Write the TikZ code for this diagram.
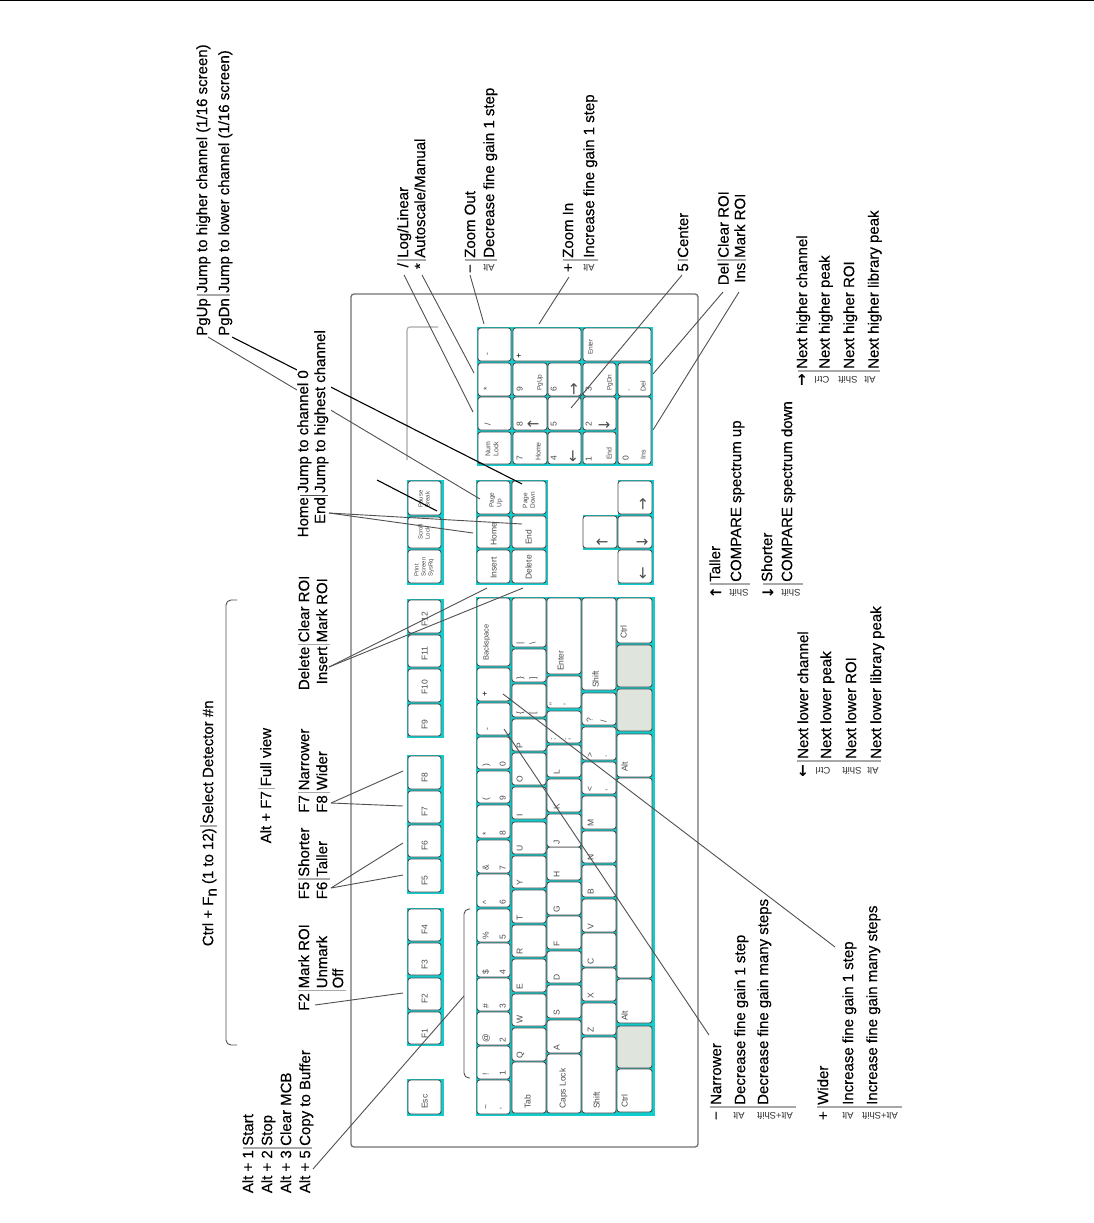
\documentclass[tikz,border=0pt]{standalone}
\usepackage{fontspec}
\setmainfont{Liberation Sans}[BoldFont=Liberation Sans,BoldFeatures={FakeBold=0.3}]
\newfontfamily\dejafont{DejaVu Sans}
\newcounter{lb}
\tikzset{
  group/.style={fill=tealbg,draw=tealbg,line width=0.6pt},
  keybox/.style={draw=keyline,line width=0.9pt,rounded corners=2.6pt,inner sep=0pt,outer sep=0pt},
  klabel/.style={rotate=90,anchor=mid west,inner sep=0pt,text=keytext,font=\fontsize{8.5}{8.5}\selectfont,align=left},
  kbig/.style={klabel,font=\dejafont\fontsize{15}{15}\selectfont},
  desc/.style={xshift=2.5pt,rotate=90,anchor=mid west,inner sep=0pt,font=\bfseries\fontsize{15}{15}\selectfont},
  keyn/.style={xshift=2.5pt,rotate=90,anchor=mid east,inner sep=0pt,font=\bfseries\fontsize{15}{15}\selectfont},
  modn/.style={rotate=180,inner sep=0pt,font=\fontsize{9.5}{9.5}\selectfont,text=black!80},
  boldarrow/.style={inner sep=0pt,font=\dejafont\bfseries\fontsize{15}{15}\selectfont},
  sep/.style={draw=sepgray,line width=1.3pt},
  septhin/.style={draw=lineg,line width=0.8pt},
  conn/.style={draw=lineg,line width=0.9pt},
  connb/.style={draw=black,line width=1.1pt},
  body/.style={draw=bodyg,line width=1.3pt,rounded corners=3pt},
  bracket/.style={draw=lineg,line width=0.9pt,rounded corners=5pt},
}
\definecolor{tealbg}{HTML}{10CCCC}
\definecolor{keyline}{HTML}{4A4A4A}
\definecolor{keytext}{HTML}{4A4A4A}
\definecolor{sepgray}{HTML}{A8A8A8}
\definecolor{lineg}{HTML}{505050}
\definecolor{bodyg}{HTML}{707070}
\definecolor{wingray}{HTML}{DFE4DD}
\newcommand{\keyb}[6][white]{%
  \pgfmathsetmacro\kw{#5-#3}\pgfmathsetmacro\kh{#6-#4}%
  \node[keybox,fill=#1,minimum width=\kw pt,minimum height=\kh pt] (#2) at ({(#3+#5)/2},{(#4+#6)/2}) {};}
\newcommand{\kl}[3]{\stepcounter{lb}\node[klabel] (lab\arabic{lb}) at (#1,#2) {#3};}
\newcommand{\kb}[3]{\stepcounter{lb}\node[kbig] (lab\arabic{lb}) at (#1,#2) {#3};}
\newcommand{\ds}[3]{\stepcounter{lb}\node[desc] (lab\arabic{lb}) at (#1,#2) {#3};}
\newcommand{\kn}[3]{\stepcounter{lb}\node[keyn] (lab\arabic{lb}) at (#1,#2) {#3};}
\newcommand{\mn}[3]{\stepcounter{lb}\node[modn] (lab\arabic{lb}) at (#1,#2) {#3};}
\newcommand{\ba}[3]{\stepcounter{lb}\node[boldarrow] (lab\arabic{lb}) at (#1,#2) {#3};}
\begin{document}
\begin{tikzpicture}[x=1pt,y=-1pt]
\useasboundingbox (0,0) rectangle (1094,1223);
\draw[black,line width=1pt] (0,0.5) -- (1094,0.5);
% body
\draw[body] (351,294) rectangle (698,1147);
\draw[draw=sepgray,line width=1.1pt,rounded corners=3pt] (438,327) -- (407,327) -- (407,460);
% teal groups
\fill[group] (407,1079) rectangle (443,1115);
\fill[group] (407,908) rectangle (443,1045);
\fill[group] (407,755) rectangle (443,893);
\fill[group] (407,599) rectangle (443,737);
\fill[group] (407,480) rectangle (443,584);
\fill[group] (476,480) rectangle (547,584);
\fill[group] (618,480) rectangle (653,584);
\fill[group] (583,515) rectangle (618,549);
\fill[group] (477,327) rectangle (652,465);
\fill[group] (476,597) rectangle (654,1115);
% function row
\keyb{esc}{408}{1080}{441}{1114}\kl{425}{1109}{Esc}
\keyb{f1}{408}{1012}{441}{1044}\kl{425}{1039}{F1}
\keyb{f2}{408}{978}{441}{1010}\kl{425}{1004}{F2}
\keyb{f3}{408}{943}{441}{975}\kl{425}{970}{F3}
\keyb{f4}{408}{909}{441}{941}\kl{425}{935}{F4}
\keyb{f5}{408}{859}{441}{892}\kl{425}{886}{F5}
\keyb{f6}{408}{825}{441}{857}\kl{425}{851}{F6}
\keyb{f7}{408}{791}{441}{823}\kl{425}{817}{F7}
\keyb{f8}{408}{756}{441}{789}\kl{425}{783}{F8}
\keyb{f9}{408}{704}{441}{736}\kl{425}{730}{F9}
\keyb{f10}{408}{669}{441}{702}\kl{425}{695}{F10}
\keyb{f11}{408}{635}{441}{667}\kl{425}{661}{F11}
\keyb{f12}{408}{600}{441}{633}\kl{425}{627}{F12}
% number row
\keyb{ktil}{477}{1080}{510}{1114}\kl{486}{1110}{\textasciitilde}\kl{503}{1110}{`}
\keyb{k1}{477}{1046}{510}{1079}\kl{486}{1076}{!}\kl{503}{1076}{1}
\keyb{k2}{477}{1012}{510}{1045}\kl{486}{1043}{@}\kl{503}{1043}{2}
\keyb{k3}{477}{978}{510}{1011}\kl{486}{1009}{\#}\kl{503}{1009}{3}
\keyb{k4}{477}{943}{510}{977}\kl{486}{975}{\$}\kl{503}{975}{4}
\keyb{k5}{477}{909}{510}{942}\kl{486}{940}{\%}\kl{503}{940}{5}
\keyb{k6}{477}{874}{510}{907}\kl{486}{905}{\^{}}\kl{503}{905}{6}
\keyb{k7}{477}{840}{510}{873}\kl{486}{871}{\&}\kl{503}{871}{7}
\keyb{k8}{477}{805}{510}{838}\kl{486}{836}{*}\kl{503}{836}{8}
\keyb{k9}{477}{771}{510}{803}\kl{486}{801}{(}\kl{503}{801}{9}
\keyb{k0}{477}{737}{510}{769}\kl{486}{767}{)}\kl{503}{767}{0}
\keyb{kmin}{477}{703}{510}{735}\kl{487}{731}{-}
\keyb{kplu}{477}{668}{510}{701}\stepcounter{lb}\node[klabel,text=black] (lab\arabic{lb}) at (485,697) {+};
\keyb{kbks}{477}{598}{510}{666}\stepcounter{lb}\node[klabel,font=\fontsize{7.5}{7.5}\selectfont] (lab\arabic{lb}) at (486,661) {Backspace};
% qwerty row
\keyb{ktab}{512}{1062}{546}{1113}\kl{528}{1109}{Tab}
\keyb{kq}{512}{1028}{546}{1061}\kl{520}{1059}{Q}
\keyb{kw}{512}{994}{546}{1026}\kl{520}{1024}{W}
\keyb{ke}{512}{959}{546}{992}\kl{520}{990}{E}
\keyb{kr}{512}{925}{546}{957}\kl{520}{955}{R}
\keyb{kt}{512}{890}{546}{923}\kl{520}{921}{T}
\keyb{ky}{512}{856}{546}{888}\kl{520}{886}{Y}
\keyb{ku}{512}{822}{546}{854}\kl{520}{852}{U}
\keyb{ki}{512}{787}{546}{819}\kl{520}{817}{I}
\keyb{ko}{512}{753}{546}{785}\kl{520}{783}{O}
\keyb{kp}{512}{719}{546}{751}\kl{520}{749}{P}
\keyb{klb}{512}{684}{546}{717}\kl{520}{715}{\{}\kl{533}{715}{[}
\keyb{krb}{512}{649}{546}{682}\kl{520}{680}{\}}\kl{533}{680}{]}
\keyb{kbsl}{512}{598}{546}{647}\kl{520}{645}{|}\kl{533}{645}{\textbackslash}
% home row
\keyb{kcap}{547}{1054}{581}{1113}\kl{563}{1109}{Caps Lock}
\keyb{ka}{547}{1020}{581}{1053}\kl{557}{1051}{A}
\keyb{ks}{547}{985}{581}{1018}\kl{557}{1016}{S}
\keyb{kd}{547}{951}{581}{983}\kl{557}{981}{D}
\keyb{kf}{547}{916}{581}{949}\kl{557}{947}{F}
\keyb{kg}{547}{882}{581}{915}\kl{557}{913}{G}
\keyb{kh}{547}{847}{581}{880}\kl{557}{878}{H}
\keyb{kj}{547}{814}{581}{847}\kl{557}{845}{J}
\keyb{kk}{547}{779}{581}{812}\kl{557}{810}{K}
\keyb{kl}{547}{745}{581}{777}\kl{557}{775}{L}
\keyb{ksc}{547}{711}{581}{743}\kl{553}{741}{:}\kl{567}{741}{;}
\keyb{kqu}{547}{676}{581}{708}\kl{553}{706}{"}\kl{567}{706}{'}
\keyb{kent}{547}{598}{581}{674}\kl{561}{671}{Enter}
% shift row
\keyb{kshl}{582}{1037}{616}{1113}\kl{597}{1109}{Shift}
\keyb{kz}{582}{1003}{616}{1035}\kl{591}{1033}{Z}
\keyb{kx}{582}{968}{616}{1001}\kl{591}{999}{X}
\keyb{kc}{582}{933}{616}{967}\kl{591}{965}{C}
\keyb{kv}{582}{899}{616}{932}\kl{591}{930}{V}
\keyb{kb}{582}{865}{616}{897}\kl{591}{895}{B}
\keyb{kn}{582}{831}{616}{863}\kl{591}{861}{N}
\keyb{km}{582}{796}{616}{829}\kl{591}{827}{M}
\keyb{kcom}{582}{762}{616}{794}\kl{590}{792}{<}\kl{604}{792}{,}
\keyb{kdot}{582}{727}{616}{760}\kl{590}{758}{>}\kl{604}{758}{.}
\keyb{ksla}{582}{693}{616}{725}\kl{590}{723}{?}\kl{604}{723}{/}
\keyb{kshr}{582}{598}{616}{690}\kl{596}{688}{Shift}
% bottom row
\keyb{kctl}{617}{1069}{652}{1112}\kl{625}{1108}{Ctrl}
\keyb[wingray]{kwinl}{617}{1026}{652}{1068}
\keyb{kaltl}{617}{979}{652}{1023}\kl{625}{1021}{Alt}
\keyb{kspc}{617}{778}{652}{978}
\keyb{kaltr}{617}{734}{652}{777}\kl{625}{772}{Alt}
\keyb[wingray]{kwinr}{617}{689}{652}{731}
\keyb[wingray]{kmenu}{617}{645}{652}{687}
\keyb{kctr}{617}{598}{652}{643}\kl{624}{639}{Ctrl}
% system keys
\keyb{kprt}{408}{550}{441}{583}\stepcounter{lb}\node[klabel,font=\fontsize{6}{7}\selectfont,anchor=center] (lab\arabic{lb}) at (424,567) {Print\\Screen\\SysRq};
\keyb{kscr}{408}{517}{441}{548}\stepcounter{lb}\node[klabel,font=\fontsize{6}{7}\selectfont,anchor=center] (lab\arabic{lb}) at (424,532) {Scroll\\Lock};
\keyb{kpau}{408}{481}{441}{515}\stepcounter{lb}\node[klabel,font=\fontsize{6}{7}\selectfont,anchor=center] (lab\arabic{lb}) at (424,499) {Pause\\Break};
% nav
\keyb{kins}{477}{550}{510}{583}\kl{494}{579}{Insert}
\keyb{khom}{477}{516}{510}{548}\kl{494}{546}{Home}
\keyb{kpup}{477}{481}{510}{514}\stepcounter{lb}\node[klabel,font=\fontsize{6.5}{7.5}\selectfont,anchor=center] (lab\arabic{lb}) at (496,500) {Page\\Up};
\keyb{kdel}{512}{550}{546}{583}\kl{529}{580}{Delete}
\keyb{kend}{512}{516}{546}{548}\kl{529}{545}{End}
\keyb{kpdn}{512}{481}{546}{514}\stepcounter{lb}\node[klabel,font=\fontsize{6.5}{7.5}\selectfont,anchor=center] (lab\arabic{lb}) at (529,500) {Page\\Down};
% cursor
\keyb{arup}{618}{481}{652}{514}\kb{645}{511}{→}
\keyb{ardn}{618}{516}{652}{548}\kb{645}{549}{↓}
\keyb{arlf}{618}{550}{652}{583}\kb{645}{580}{←}
\keyb{arup2}{583}{516}{617}{548}\kb{605}{549}{↑}
% numpad
\keyb{nmin}{478}{328}{511}{361}\kl{487}{356}{-}
\keyb{nast}{478}{363}{511}{396}\kl{487}{391}{*}
\keyb{nsla}{478}{397}{511}{430}\kl{488}{426}{/}
\keyb{nlck}{478}{432}{511}{464}\stepcounter{lb}\node[klabel,font=\fontsize{7}{8}\selectfont,anchor=center] (lab\arabic{lb}) at (492,449) {Num\\Lock};
\keyb{nplu}{513}{328}{581}{361}\stepcounter{lb}\node[klabel,text=black] (lab\arabic{lb}) at (519,359) {+};
\keyb{nent}{583}{328}{651}{361}\stepcounter{lb}\node[klabel,font=\fontsize{6.5}{6.5}\selectfont] (lab\arabic{lb}) at (590,355) {Enter};
\keyb{n9}{513}{363}{547}{396}\kl{520}{392}{9}\stepcounter{lb}\node[klabel,font=\fontsize{6.5}{6.5}\selectfont] (lab\arabic{lb}) at (539,391) {PgUp};
\keyb{n8}{513}{397}{547}{430}\kl{520}{427}{8}\kb{536}{431}{↑}
\keyb{n7}{513}{432}{547}{464}\kl{520}{461}{7}\stepcounter{lb}\node[klabel,font=\fontsize{7}{7}\selectfont] (lab\arabic{lb}) at (538,461) {Home};
\keyb{n6}{548}{363}{581}{396}\kl{554}{392}{6}\kb{576}{396}{→}
\keyb{n5}{548}{397}{581}{430}\kl{554}{427}{5}
\keyb{n4}{548}{432}{581}{464}\kl{554}{461}{4}\kb{575}{463}{←}
\keyb{n3}{583}{363}{616}{396}\kl{589}{392}{3}\stepcounter{lb}\node[klabel,font=\fontsize{6.5}{6.5}\selectfont] (lab\arabic{lb}) at (609,391) {PgDn};
\keyb{n2}{583}{397}{616}{430}\kl{589}{427}{2}\kb{607}{432}{↓}
\keyb{n1}{583}{432}{616}{464}\kl{589}{462}{1}\stepcounter{lb}\node[klabel,font=\fontsize{7}{7}\selectfont] (lab\arabic{lb}) at (609,460) {End};
\keyb{ndot}{618}{363}{651}{396}\kl{627}{392}{.}\stepcounter{lb}\node[klabel,font=\fontsize{7}{7}\selectfont] (lab\arabic{lb}) at (643,392) {Del};
\keyb{n0}{618}{397}{651}{464}\kl{626}{461}{0}\stepcounter{lb}\node[klabel,font=\fontsize{7}{7}\selectfont] (lab\arabic{lb}) at (643,460) {Ins};
% brackets
\draw[bracket] (237,600) -- (226,600) -- (226,1045) -- (237,1045);
\draw[bracket] (470,909) -- (464,909) -- (464,1078) -- (470,1078);
% connector end points
\coordinate (aPgUp) at (208,337); \coordinate (bPgUp) at (480,499);
\coordinate (aPgDn) at (232,337); \coordinate (bPgDn) at (522,484);
\coordinate (aPau) at (377,480); \coordinate (bPau) at (437,511);
\coordinate (aEnd) at (329,513); \coordinate (bHome) at (473,533); \coordinate (bEnd) at (522,524);
\coordinate (aDel) at (329,667); \coordinate (bIns) at (487,588); \coordinate (bDel) at (523,588);
\coordinate (aF8) at (331,803); \coordinate (bF8) at (403,771); \coordinate (bF7) at (403,806);
\coordinate (aF6) at (331,888); \coordinate (bF6) at (403,843); \coordinate (bF5) at (403,875);
\coordinate (aF2) at (315,1005); \coordinate (bF2) at (403,993);
\coordinate (aA5) at (313,1169); \coordinate (bA5) at (464,996);
\coordinate (aSl) at (404,275); \coordinate (bSl) at (473,412);
\coordinate (aAs) at (422,275); \coordinate (bAs) at (474,373);
\coordinate (aMi) at (470,275); \coordinate (bMi) at (484,324);
\coordinate (aPl) at (569,277); \coordinate (bPl) at (539,324);
\coordinate (aFi) at (682,275); \coordinate (bFi) at (571,408);
\coordinate (aDe) at (723,292); \coordinate (bDe) at (653,374);
\coordinate (aIn) at (739,292); \coordinate (bIn) at (653,430);
\coordinate (aNa) at (709,1035); \coordinate (bNa) at (504,729);
\coordinate (aWi) at (835,947); \coordinate (bWi) at (503,694);
% connectors
\draw[conn] (aPgUp) -- (bPgUp);
\draw[connb] (aPgDn) -- (bPgDn);
\draw[connb] (aPau) -- (bPau);
\fill[white] (297,328) rectangle (331,497);
\draw[conn] (aEnd) -- (bHome);
\draw[conn] (aEnd) -- (bEnd);
\draw[conn] (aDel) -- (bIns);
\draw[conn] (aDel) -- (bDel);
\draw[conn] (aF8) -- (bF8);
\draw[conn] (aF8) -- (bF7);
\draw[conn] (aF6) -- (bF6);
\draw[conn] (aF6) -- (bF5);
\draw[conn] (aF2) -- (bF2);
\draw[conn] (aA5) -- (bA5);
\draw[conn] (aSl) -- (bSl);
\draw[conn] (aAs) -- (bAs);
\draw[conn] (aMi) -- (bMi);
\draw[conn] (aPl) -- (bPl);
\draw[conn] (aFi) -- (bFi);
\draw[conn] (aDe) -- (bDe);
\draw[conn] (aIn) -- (bIn);
\draw[conn] (aNa) -- (bNa);
\draw[conn] (aWi) -- (bWi);
% text lists
\draw[sep] (197,295) -- (230,295);
\kn{202}{298}{PgUp}\ds{202}{293}{Jump to higher channel (1/16 screen)}
\kn{224}{298}{PgDn}\ds{224}{293}{Jump to lower channel (1/16 screen)}
\draw[sep] (397,260) -- (426,260);
\kn{403}{263}{/}\ds{403}{258}{Log/Linear}
\kn{420}{263}{*}\ds{420}{258}{Autoscale/Manual}
\draw[sep] (465,260) -- (497,260);
\kn{470}{264}{−}\ds{470}{258}{Zoom Out}
\mn{489}{268}{Alt}\ds{489}{258}{Decrease fine gain 1 step}
\draw[sep] (563,260) -- (598,260);
\kn{568}{263}{+}\ds{568}{258}{Zoom In}
\mn{589}{268}{Alt}\ds{589}{258}{Increase fine gain 1 step}
\draw[sep] (678,260) -- (688,260);
\kn{683}{263}{5}\ds{683}{258}{Center}
\draw[sep] (717,260) -- (746,260);
\kn{723.5}{262.5}{Del}\ds{723.5}{258}{Clear ROI}
\kn{740}{262.5}{Ins}\ds{740}{258}{Mark ROI}
% home / end
\draw[septhin] (300,495) -- (328,495);
\kn{303}{497}{Home}\ds{303}{493}{Jump to channel 0}
\kn{320}{497}{End}\ds{320}{493}{Jump to highest channel}
% delete / insert
\draw[sep] (298,644.5) -- (330,644.5);
\kn{304}{646.5}{Delete}\ds{304}{642.5}{Clear ROI}
\kn{322}{646.5}{Insert}\ds{322}{642.5}{Mark ROI}
% F7
\draw[sep] (298,792.5) -- (330,792.5);
\kn{304}{795}{F7}\ds{304}{790.5}{Narrower}
\kn{322}{795}{F8}\ds{322}{790.5}{Wider}
% F5
\draw[sep] (298,879) -- (330,879);
\kn{304}{881.5}{F5}\ds{304}{877}{Shorter}
\kn{322}{881.5}{F6}\ds{322}{877}{Taller}
% F2
\draw[sep] (298,990.5) -- (346,990.5);
\kn{304}{993}{F2}\ds{304}{988.5}{Mark ROI}
\ds{322}{988.5}{Unmark}
\ds{338}{988.5}{Off}
% alt list
\draw[sep] (243,1148) -- (312,1148);
\kn{248}{1150}{Alt + 1}\ds{248}{1146}{Start}
\kn{267}{1150}{Alt + 2}\ds{267}{1146}{Stop}
\kn{286}{1150}{Alt + 3}\ds{286}{1146}{Clear MCB}
\kn{305}{1150}{Alt + 5}\ds{305}{1146}{Copy to Buffer}
% ctrl
\draw[sep] (200,826) -- (217,826);
\kn{208}{828}{Ctrl + F\raisebox{-3.5pt}{n} (1 to 12)}\ds{208}{824}{Select Detector \#n}
\draw[sep] (258,788.5) -- (275,788.5);
\kn{266}{791}{Alt + F7}\ds{266}{786.5}{Full view}
% narrow / wide
\draw[sep] (710,1107) -- (796,1107);
\kn{716}{1111}{−}\ds{716}{1105}{Narrower}
\mn{739}{1116}{Alt}\ds{740}{1105}{Decrease fine gain 1 step}
\mn{775}{1116}{Alt+Shift}\ds{763}{1105}{Decrease fine gain many steps}
\draw[sep] (817,1107) -- (902,1107);
\kn{823}{1111}{+}\ds{823}{1105}{Wider}
\mn{848}{1116}{Alt}\ds{848}{1105}{Increase fine gain 1 step}
\mn{880}{1116}{Alt+Shift}\ds{872}{1105}{Increase fine gain many steps}
% shift arrows
\draw[sep] (710,584) -- (750,584);
\ba{716}{593}{←}\ds{715}{582}{Taller}
\mn{739}{593}{Shift}\ds{736}{582}{COMPARE spectrum up}
\draw[sep] (763,584) -- (803,584);
\ba{768}{593}{→}\ds{767}{582}{Shorter}
\mn{791}{593}{Shift}\ds{787}{582}{COMPARE spectrum down}
% lower
\draw[sep] (797,761) -- (881,761);
\ba{803}{771}{↓}\ds{803}{759}{Next lower channel}
\mn{823}{771}{Ctrl}\ds{826}{759}{Next lower peak}
\mn{852}{771}{Shift}\ds{851}{759}{Next lower ROI}
\mn{873}{771}{Alt}\ds{876}{759}{Next lower library peak}
% higher
\draw[sep] (798,371) -- (880,371);
\ba{802}{380}{↑}\ds{802}{369}{Next higher channel}
\mn{822}{380}{Ctrl}\ds{824.5}{369}{Next higher peak}
\mn{848}{380}{Shift}\ds{849}{369}{Next higher ROI}
\mn{870}{380}{Alt}\ds{873.5}{369}{Next higher library peak}
\end{tikzpicture}
\end{document}
